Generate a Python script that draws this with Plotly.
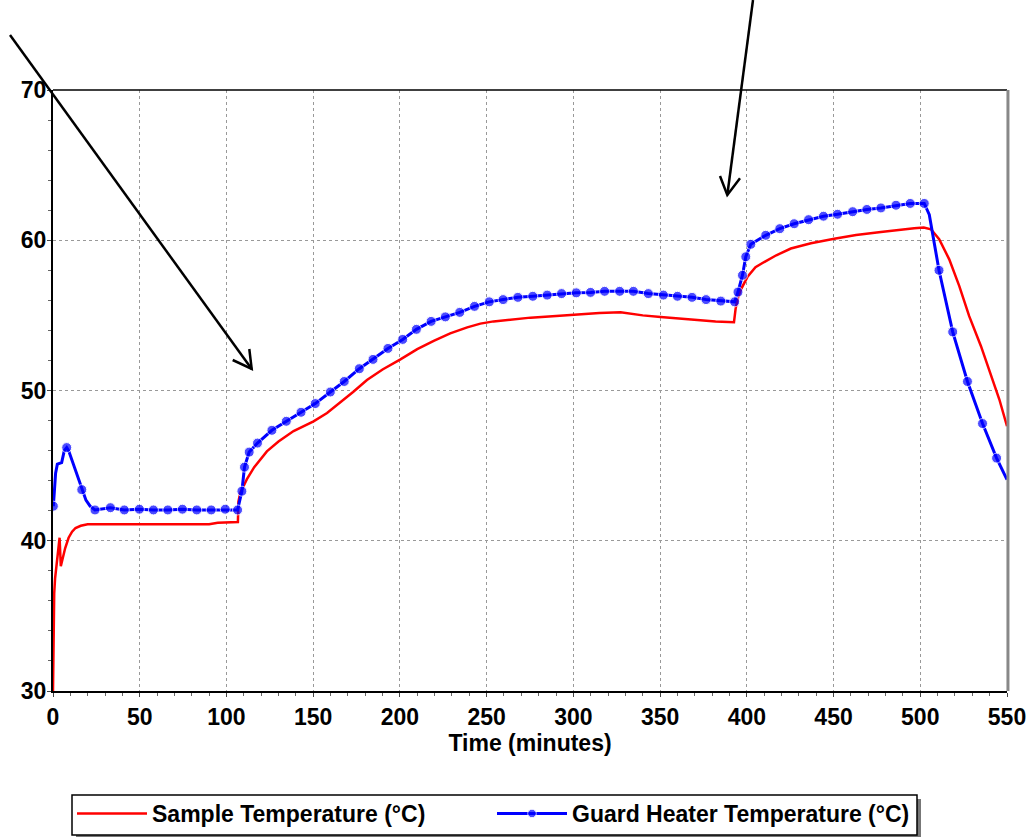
import plotly.graph_objects as go

# ---------------- data ----------------
sample_time = [0, 0.3, 0.7, 1.2, 2, 3, 3.8, 4.5, 5.5, 7, 9, 11, 13, 16, 20, 30, 50, 70, 90, 95,
               106.6, 106.9, 108, 111.8, 116, 123.3, 130, 138.7, 150.2, 158, 165.6, 173, 181, 190,
               200.3, 210, 219.5, 229, 238.8, 246.4, 254, 265, 275.3, 288, 300.3, 315, 327.2, 340,
               350.3, 360, 371.5, 382, 392.6, 393.6, 395, 396.5, 400.3, 405, 410, 417, 425.4, 437,
               450.4, 463, 477.3, 487, 496.5, 502, 506.2, 510.9, 516.7, 522.5, 528.2, 535, 540.8,
               545.6, 550]
sample_temp = [30.0, 34.5, 36.5, 37.5, 38.3, 39.0, 40.2, 38.3, 38.8, 39.5, 40.2, 40.6, 40.85, 41.0,
               41.1, 41.1, 41.1, 41.1, 41.1, 41.2, 41.25, 42.6, 43.2, 44.1, 44.9, 45.95, 46.6, 47.3,
               47.95, 48.5, 49.2, 49.9, 50.7, 51.4, 52.07, 52.75, 53.3, 53.8, 54.2, 54.45, 54.6,
               54.75, 54.85, 54.95, 55.05, 55.15, 55.2, 55.0, 54.9, 54.8, 54.67, 54.6, 54.55, 55.5,
               56.2, 56.7, 57.55, 58.2, 58.55, 59.0, 59.45, 59.8, 60.1, 60.35, 60.55, 60.7, 60.8,
               60.85, 60.73, 60.07, 58.73, 56.95, 54.95, 52.95, 50.95, 49.4, 47.62]

guard_time = [0.2, 0.8, 1.5, 2.5, 5.0, 6.5, 7.9, 9, 10.8, 13.5, 16.6, 19, 21.4, 24.2, 33.1, 41.1,
              49.8, 57.9, 66.2, 74.6, 82.9, 91.2, 99.3, 106.4, 108.9, 110.4, 113.1, 117.9, 126.2,
              134.5, 143, 151.2, 159.9, 167.9, 176.6, 184.5, 193.1, 201.6, 209.5, 218, 226.2, 234.5,
              243, 251.5, 259.5, 268, 276.6, 284.9, 293.2, 301.7, 309.9, 318, 326.7, 334.6, 343.2,
              351.9, 360, 368.4, 376.5, 385, 393, 394.9, 397.5, 399.4, 402.3, 410.9, 419, 427.3,
              435.6, 444.2, 452.3, 461, 469.2, 477.3, 486, 494.2, 502.3, 505.2, 510.8, 518.7, 527.2,
              535.9, 544, 550]
guard_temp = [42.3, 43.5, 44.5, 45.1, 45.2, 46.0, 46.2, 46.0, 45.4, 44.4, 43.4, 42.7, 42.3, 42.05,
              42.2, 42.05, 42.1, 42.05, 42.05, 42.1, 42.05, 42.05, 42.1, 42.05, 43.3, 44.9, 45.9,
              46.5, 47.35, 47.95, 48.55, 49.13, 49.9, 50.6, 51.45, 52.07, 52.8, 53.4, 54.07, 54.6,
              54.9, 55.2, 55.6, 55.9, 56.05, 56.2, 56.27, 56.35, 56.45, 56.5, 56.53, 56.6, 56.6,
              56.6, 56.45, 56.35, 56.27, 56.2, 56.05, 55.95, 55.9, 56.55, 57.67, 58.9, 59.73, 60.33,
              60.77, 61.1, 61.37, 61.6, 61.73, 61.9, 62.05, 62.15, 62.33, 62.45, 62.45, 61.7, 58.0,
              53.9, 50.6, 47.8, 45.5, 44.07]
guard_marked = [1, 0, 0, 0, 0, 0, 1, 0, 0, 0, 1, 0, 0, 1, 1, 1, 1, 1, 1, 1, 1, 1, 1, 1, 1, 1, 1,
                1, 1, 1, 1, 1, 1, 1, 1, 1, 1, 1, 1, 1, 1, 1, 1, 1, 1, 1, 1, 1, 1, 1, 1, 1, 1, 1, 1,
                1, 1, 1, 1, 1, 1, 1, 1, 1, 1, 1, 1, 1, 1, 1, 1, 1, 1, 1, 1, 1, 1, 0, 1, 1, 1, 1, 1, 0]

x_tick_vals = [0, 50, 100, 150, 200, 250, 300, 350, 400, 450, 500, 550]
y_tick_vals = [30, 40, 50, 60, 70]

series_names = ["Sample Temperature (°C)", "Guard Heater Temperature (°C)"]
x_title = "Time (minutes)"

# ---------------- layout geometry ----------------
W, H = 1029, 837
ML, MR, MT, MB = 53, 22, 90, 146
PW, PH = W - ML - MR, H - MT - MB


def px(xp):
    return (xp - ML) / PW


def py(yp):
    return (H - MB - yp) / PH


FONT = "Liberation Sans, Arial, sans-serif"

fig = go.Figure()
fig.add_trace(go.Scatter(
    x=sample_time, y=sample_temp, mode="lines", name=series_names[0],
    line=dict(color="#FF0000", width=2.5),
))
fig.add_trace(go.Scatter(
    x=guard_time, y=guard_temp, mode="lines+markers", name=series_names[1],
    line=dict(color="#0000FF", width=3),
    marker=dict(color="#0000FF", size=[10 if m else 0 for m in guard_marked]),
))

axis_common = dict(
    showline=True, linecolor="black", linewidth=2,
    ticks="outside", ticklen=4, tickcolor="#444", tickwidth=1,
    showgrid=True, gridcolor="#999999", griddash="dot", gridwidth=1,
    zeroline=False,
    tickfont=dict(family=FONT, size=23, color="black", weight=700),
)

fig.update_xaxes(
    range=[0, 550], tickvals=x_tick_vals,
    minor=dict(dtick=10, ticks="outside", ticklen=3, tickcolor="#666", showgrid=False),
    title=dict(text=x_title, font=dict(family=FONT, size=23, color="black", weight=700), standoff=6),
    ticklabelstandoff=0,
    **axis_common,
)
fig.update_yaxes(
    range=[30, 70], tickvals=y_tick_vals,
    minor=dict(dtick=2, ticks="outside", ticklen=3, tickcolor="#666", showgrid=False),
    ticklabelstandoff=-4,
    **axis_common,
)

shapes = [
    # top border
    dict(type="line", xref="paper", yref="paper", x0=0, x1=1, y0=1, y1=1,
         line=dict(color="black", width=1.5)),
    # right border (grey)
    dict(type="line", xref="paper", yref="paper", x0=1.001, x1=1.001, y0=0, y1=1,
         line=dict(color="#888888", width=3)),
    # arrow 1
    dict(type="line", xref="paper", yref="paper", x0=px(10), y0=py(35), x1=px(251.7), y1=py(369),
         line=dict(color="black", width=2.5)),
    dict(type="path", xref="paper", yref="paper",
         path=f"M{px(232.7)},{py(360)} L{px(251.7)},{py(369)} L{px(249.3)},{py(349)}",
         line=dict(color="black", width=2.5)),
    # arrow 2
    dict(type="line", xref="paper", yref="paper", x0=px(753), y0=py(0), x1=px(727.3), y1=py(195),
         line=dict(color="black", width=2.5)),
    dict(type="path", xref="paper", yref="paper",
         path=f"M{px(720)},{py(176)} L{px(727.3)},{py(195)} L{px(740)},{py(178.3)}",
         line=dict(color="black", width=2.5)),
    # legend box shadow and frame
    dict(type="rect", xref="paper", yref="paper", x0=px(76), x1=px(921), y0=py(799), y1=py(838),
         fillcolor="#777777", line=dict(width=0), layer="below"),
    dict(type="rect", xref="paper", yref="paper", x0=px(72), x1=px(917), y0=py(795), y1=py(835),
         fillcolor="white", line=dict(color="black", width=1.5), layer="below"),
]

fig.update_layout(
    width=W, height=H,
    margin=dict(l=ML, r=MR, t=MT, b=MB, autoexpand=False),
    paper_bgcolor="white", plot_bgcolor="white",
    font=dict(family=FONT, color="black"),
    showlegend=True,
    legend=dict(
        orientation="h", x=px(72), y=py(792), xanchor="left", yanchor="top",
        bgcolor="rgba(0,0,0,0)", borderwidth=0,
        font=dict(family=FONT, size=23, color="black", weight=700),
        itemwidth=70, entrywidth=335, tracegroupgap=0,
    ),
    shapes=shapes,
)

fig.write_html("out.html", config={"displayModeBar": False},
               post_script="document.body.style.margin='0';")
